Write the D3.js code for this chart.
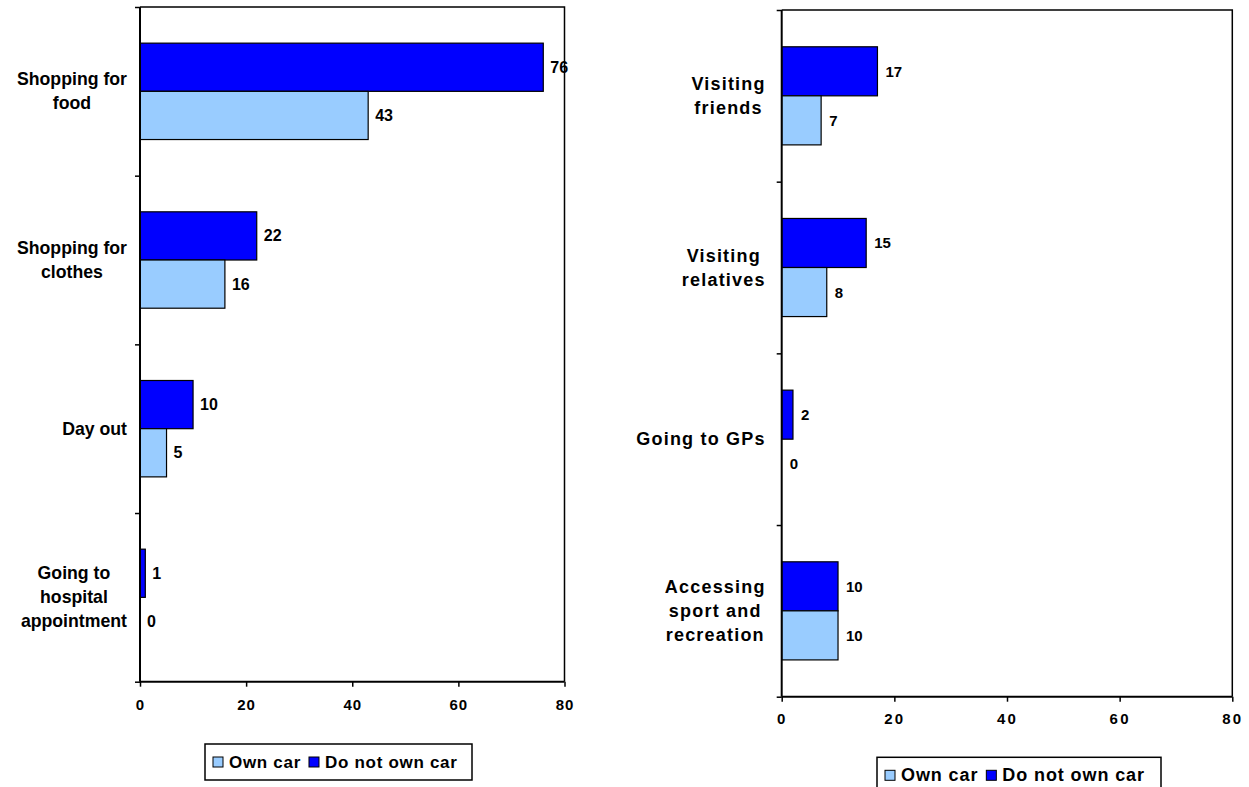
<!DOCTYPE html>
<html>
<head>
<meta charset="utf-8">
<script src="https://cdn.jsdelivr.net/npm/d3@7"></script>
<style>
  html, body { margin: 0; padding: 0; background: #fff; }
  svg { display: block; }
  text { font-family: "Liberation Sans", Arial, sans-serif; font-weight: bold; fill: #000; }
</style>
</head>
<body>
<svg id="chart" width="1249" height="787"></svg>
<script>
// ---------- data ----------
const leftCategories = ["Shopping for food", "Shopping for clothes", "Day out", "Going to hospital appointment"];
const leftLabelLines = [["Shopping for", "food"], ["Shopping for", "clothes"], ["Day out"], ["Going to", "hospital", "appointment"]];
const leftOwnCar = [43, 16, 5, 0];
const leftNoCar = [76, 22, 10, 1];

const rightCategories = ["Visiting friends", "Visiting relatives", "Going to GPs", "Accessing sport and recreation"];
const rightLabelLines = [["Visiting", "friends"], ["Visiting", "relatives"], ["Going to GPs"], ["Accessing", "sport and", "recreation"]];
const rightOwnCar = [7, 8, 0, 10];
const rightNoCar = [17, 15, 2, 10];

const xTicks = [0, 20, 40, 60, 80];
const seriesNames = ["Own car", "Do not own car"];
const seriesKeys = ["noCar", "own"]; // drawing order top to bottom within a band
const colors = { own: "#99CCFF", noCar: "#0000FF" };

const svg = d3.select("#chart");

function drawPanel(cfg) {
  const { left, top, right, bottom, cats, lines, own, noCar, catFont, catSpacing, catGap,
          valFont, valGap, tickFont, tickSpacing, tickDy, legend } = cfg;

  const x = d3.scaleLinear().domain([0, 80]).range([left, right]);
  const y = d3.scaleBand().domain(cats).range([top, bottom]).padding(0);
  const sub = d3.scaleBand().domain(seriesKeys).range([0, y.bandwidth()]).paddingInner(0).paddingOuter(0.75);

  const g = svg.append("g");

  // plot border (top & right)
  g.append("path")
    .attr("d", `M${left},${top}H${right}V${bottom}`)
    .attr("fill", "none").attr("stroke", "#000").attr("stroke-width", 1.5);

  // bars
  const rows = cats.map((c, i) => ({ cat: c, own: own[i], noCar: noCar[i] }));
  seriesKeys.forEach(key => {
    g.selectAll(null).data(rows).enter().append("rect")
      .attr("x", x(0))
      .attr("y", d => y(d.cat) + sub(key))
      .attr("width", d => x(d[key]) - x(0))
      .attr("height", sub.bandwidth())
      .attr("fill", colors[key])
      .attr("stroke", "#000").attr("stroke-width", 1.2)
      .style("display", d => d[key] === 0 ? "none" : null);
    g.selectAll(null).data(rows).enter().append("text")
      .attr("x", d => x(d[key]) + valGap)
      .attr("y", d => y(d.cat) + sub(key) + sub.bandwidth() / 2)
      .attr("dominant-baseline", "central")
      .attr("font-size", valFont)
      .text(d => d[key]);
  });

  // y axis (category ticks)
  const yAxis = d3.axisLeft(d3.scaleLinear().domain([0, cats.length]).range([top, bottom]))
    .tickValues(d3.range(cats.length + 1)).tickSize(5).tickFormat("");
  const ya = g.append("g").attr("transform", `translate(${left},0)`).call(yAxis);
  ya.select(".domain").attr("stroke-width", 2).attr("d", `M0,${top}V${bottom}`);
  ya.selectAll(".tick line").attr("stroke-width", 1.5);

  // x axis
  const xAxis = d3.axisBottom(x).tickValues(xTicks).tickSize(5).tickFormat(d3.format("d"));
  const xa = g.append("g").attr("transform", `translate(0,${bottom})`).call(xAxis);
  xa.select(".domain").attr("stroke-width", 2).attr("d", `M${left},0H${right}`);
  xa.selectAll(".tick line").attr("stroke-width", 1.5);
  xa.selectAll(".tick text")
    .attr("y", tickDy).attr("dy", "0.35em")
    .attr("font-size", tickFont)
    .attr("font-family", '"Liberation Sans", Arial, sans-serif')
    .attr("font-weight", "bold")
    .attr("fill", "#000")
    .style("letter-spacing", tickSpacing + "px");

  // category labels (block right-aligned, lines centered)
  const lh = 24;
  cats.forEach((c, i) => {
    const ls = lines[i];
    const cy = y(c) + y.bandwidth() / 2;
    const tg = g.append("g");
    const texts = ls.map((t, j) => tg.append("text")
      .attr("y", cy + (j - (ls.length - 1) / 2) * lh)
      .attr("dominant-baseline", "central")
      .attr("text-anchor", "middle")
      .attr("font-size", catFont)
      .style("letter-spacing", catSpacing + "px")
      .text(t));
    const maxW = d3.max(texts, t => t.node().getComputedTextLength());
    const cx = left - catGap - maxW / 2;
    texts.forEach(t => t.attr("x", cx));
  });

  // legend
  const lg = g.append("g");
  lg.append("rect").attr("x", legend.x).attr("y", legend.y).attr("width", legend.w).attr("height", legend.h)
    .attr("fill", "#fff").attr("stroke", "#000").attr("stroke-width", 1.5);
  const legKeys = ["own", "noCar"];
  let cxl = legend.x + 8;
  const midY = legend.y + legend.h / 2;
  legKeys.forEach((k, i) => {
    lg.append("rect").attr("x", cxl).attr("y", midY - 5).attr("width", 10).attr("height", 10)
      .attr("fill", colors[k]).attr("stroke", "#000").attr("stroke-width", 1);
    const t = lg.append("text").attr("x", cxl + 16).attr("y", midY)
      .attr("dominant-baseline", "central").attr("font-size", legend.font)
      .style("letter-spacing", legend.spacing + "px")
      .text(seriesNames[i]);
    cxl += 16 + t.node().getComputedTextLength() + 8;
  });
}

drawPanel({
  left: 140, top: 7, right: 564.5, bottom: 681.7,
  cats: leftCategories, lines: leftLabelLines, own: leftOwnCar, noCar: leftNoCar,
  catFont: 17.7, catSpacing: 0, catGap: 13,
  valFont: 16, valGap: 7, tickFont: 15, tickSpacing: 1, tickDy: 23,
  legend: { x: 205, y: 744, w: 267, h: 36, font: 17, spacing: 0.7 }
});

drawPanel({
  left: 781.7, top: 10, right: 1232.3, bottom: 696.7,
  cats: rightCategories, lines: rightLabelLines, own: rightOwnCar, noCar: rightNoCar,
  catFont: 18, catSpacing: 1.2, catGap: 16,
  valFont: 15, valGap: 8, tickFont: 15, tickSpacing: 2.2, tickDy: 22,
  legend: { x: 877, y: 757.3, w: 284, h: 36, font: 18, spacing: 0.9 }
});
</script>
</body>
</html>
